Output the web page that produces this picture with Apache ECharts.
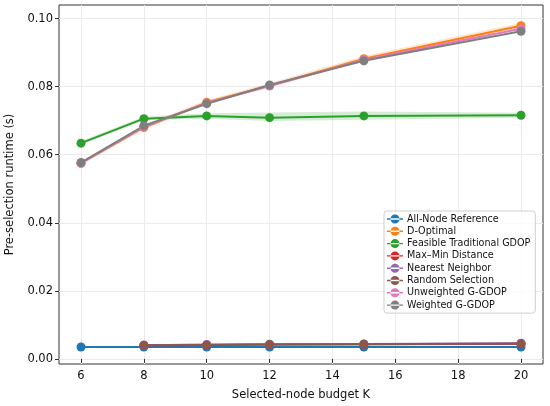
<!DOCTYPE html>
<html>
<head>
<meta charset="utf-8">
<script src="https://cdn.jsdelivr.net/npm/echarts@6/dist/echarts.min.js"></script>
<style>
html, body { margin: 0; padding: 0; background: #fff; }
#chart { width: 550px; height: 406px; }
</style>
</head>
<body>
<div id="chart"></div>
<script>
// runtime per budget K
var budgets = [6, 8, 10, 12, 15, 20];
var budgetsNo6 = [8, 10, 12, 15, 20];
var xTicks = [6, 8, 10, 12, 14, 16, 18, 20];
var yTicks = [0, 0.02, 0.04, 0.06, 0.08, 0.10];

var allNode = [0.0035, 0.0035, 0.0035, 0.0035, 0.0035, 0.0035];
var dOptimal = [0.0575, 0.0680, 0.0754, 0.0803, 0.0882, 0.0979];
var feasibleGdop = [0.0634, 0.0706, 0.0714, 0.0709, 0.0714, 0.0716];
var maxMin = [0.0040, 0.0041, 0.0042, 0.0043, 0.0044];
var nearest = [0.0040, 0.0042, 0.0043, 0.0044, 0.0046];
var randomSel = [0.0040, 0.0041, 0.0042, 0.0043, 0.0045];
var unweighted = [0.0575, 0.0682, 0.0752, 0.0802, 0.0879, 0.0970];
var weighted = [0.0577, 0.0685, 0.0750, 0.0805, 0.0876, 0.0963];

// shaded spread
var feasibleLow = [0.0629, 0.0701, 0.0706, 0.0699, 0.0703, 0.0709];
var feasibleHigh = [0.0640, 0.0712, 0.0722, 0.0724, 0.0727, 0.0723];
var dOptLow = [0.0570, 0.0674, 0.0748, 0.0797, 0.0875, 0.0970];
var dOptHigh = [0.0581, 0.0687, 0.0761, 0.0811, 0.0890, 0.0988];

function pairs(xs, ys) {
    return xs.map(function (x, i) { return [x, ys[i]]; });
}

var lineIcon = 'path://M0,3.3h16v1.4h-16z M3.5,4a4.5,4.5 0 1,0 9,0a4.5,4.5 0 1,0 -9,0z';

function lineSeries(name, color, xs, ys) {
    return {
        name: name,
        type: 'line',
        data: pairs(xs, ys),
        symbol: 'circle',
        symbolSize: 9,
        color: color,
        lineStyle: { width: 2, color: color },
        itemStyle: { color: color },
        emphasis: { disabled: true }
    };
}

// band polygon drawn through the axis scales
function band(color, lows, highs) {
    return {
        type: 'custom',
        silent: true,
        z: 1,
        data: [0],
        renderItem: function (params, api) {
            var pts = [];
            budgets.forEach(function (x, i) { pts.push(api.coord([x, highs[i]])); });
            for (var i = budgets.length - 1; i >= 0; i--) pts.push(api.coord([budgets[i], lows[i]]));
            return {
                type: 'polygon',
                shape: { points: pts },
                style: { fill: color, opacity: 0.2 }
            };
        }
    };
}

var names = ['All-Node Reference', 'D-Optimal', 'Feasible Traditional GDOP', 'Max\u2013Min Distance',
    'Nearest Neighbor', 'Random Selection', 'Unweighted G-GDOP', 'Weighted G-GDOP'];

var chart = echarts.init(document.getElementById('chart'));
var option = {
    animation: false,
    textStyle: { fontFamily: 'DejaVu Sans' },
    grid: {
        left: 59, right: 7, top: 5, bottom: 42,
        outerBoundsMode: 'none',
        containLabel: false,
        show: true, borderColor: '#333', borderWidth: 1
    },
    legend: {
        data: names.map(function (n) { return { name: n, icon: lineIcon }; }),
        orient: 'vertical',
        left: 384, top: 211,
        itemWidth: 16, itemHeight: 9, itemGap: 2.3,
        padding: [3, 5, 3, 3],
        borderColor: '#cfcfcf', borderWidth: 1, borderRadius: 3,
        backgroundColor: 'rgba(255,255,255,0.8)',
        textStyle: { fontSize: 9.6, color: '#111', padding: [0, 0, 0, -1] }
    },
    xAxis: {
        type: 'value', min: 5.3, max: 20.7,
        name: 'Selected-node budget K', nameLocation: 'middle', nameGap: 25,
        nameTextStyle: { fontSize: 11.5, color: '#111' },
        axisLine: { show: false },
        axisTick: { show: true, length: 4, customValues: xTicks, lineStyle: { color: '#333' } },
        axisLabel: { customValues: xTicks, fontSize: 11.5, color: '#111', margin: 6 },
        splitLine: { show: true, lineStyle: { color: '#ebebeb', width: 1 } }
    },
    yAxis: {
        type: 'value', min: -0.0015, max: 0.104,
        name: 'Pre-selection runtime (s)', nameLocation: 'middle', nameGap: 38,
        nameTextStyle: { fontSize: 11.5, color: '#111' },
        axisLine: { show: false },
        axisTick: { show: true, length: 4, customValues: yTicks, lineStyle: { color: '#333' } },
        axisLabel: {
            customValues: yTicks, fontSize: 11.5, color: '#111', margin: 6,
            formatter: function (v) { return v.toFixed(2); }
        },
        splitLine: { show: true, lineStyle: { color: '#ebebeb', width: 1 } }
    },
    series: [
        band('#2ca02c', feasibleLow, feasibleHigh),
        band('#ff7f0e', dOptLow, dOptHigh),
        lineSeries(names[0], '#1f77b4', budgets, allNode),
        lineSeries(names[1], '#ff7f0e', budgets, dOptimal),
        lineSeries(names[2], '#2ca02c', budgets, feasibleGdop),
        lineSeries(names[3], '#d62728', budgetsNo6, maxMin),
        lineSeries(names[4], '#9467bd', budgetsNo6, nearest),
        lineSeries(names[5], '#8c564b', budgetsNo6, randomSel),
        lineSeries(names[6], '#e377c2', budgets, unweighted),
        lineSeries(names[7], '#7f7f7f', budgets, weighted)
    ]
};
chart.setOption(option);
</script>
</body>
</html>
